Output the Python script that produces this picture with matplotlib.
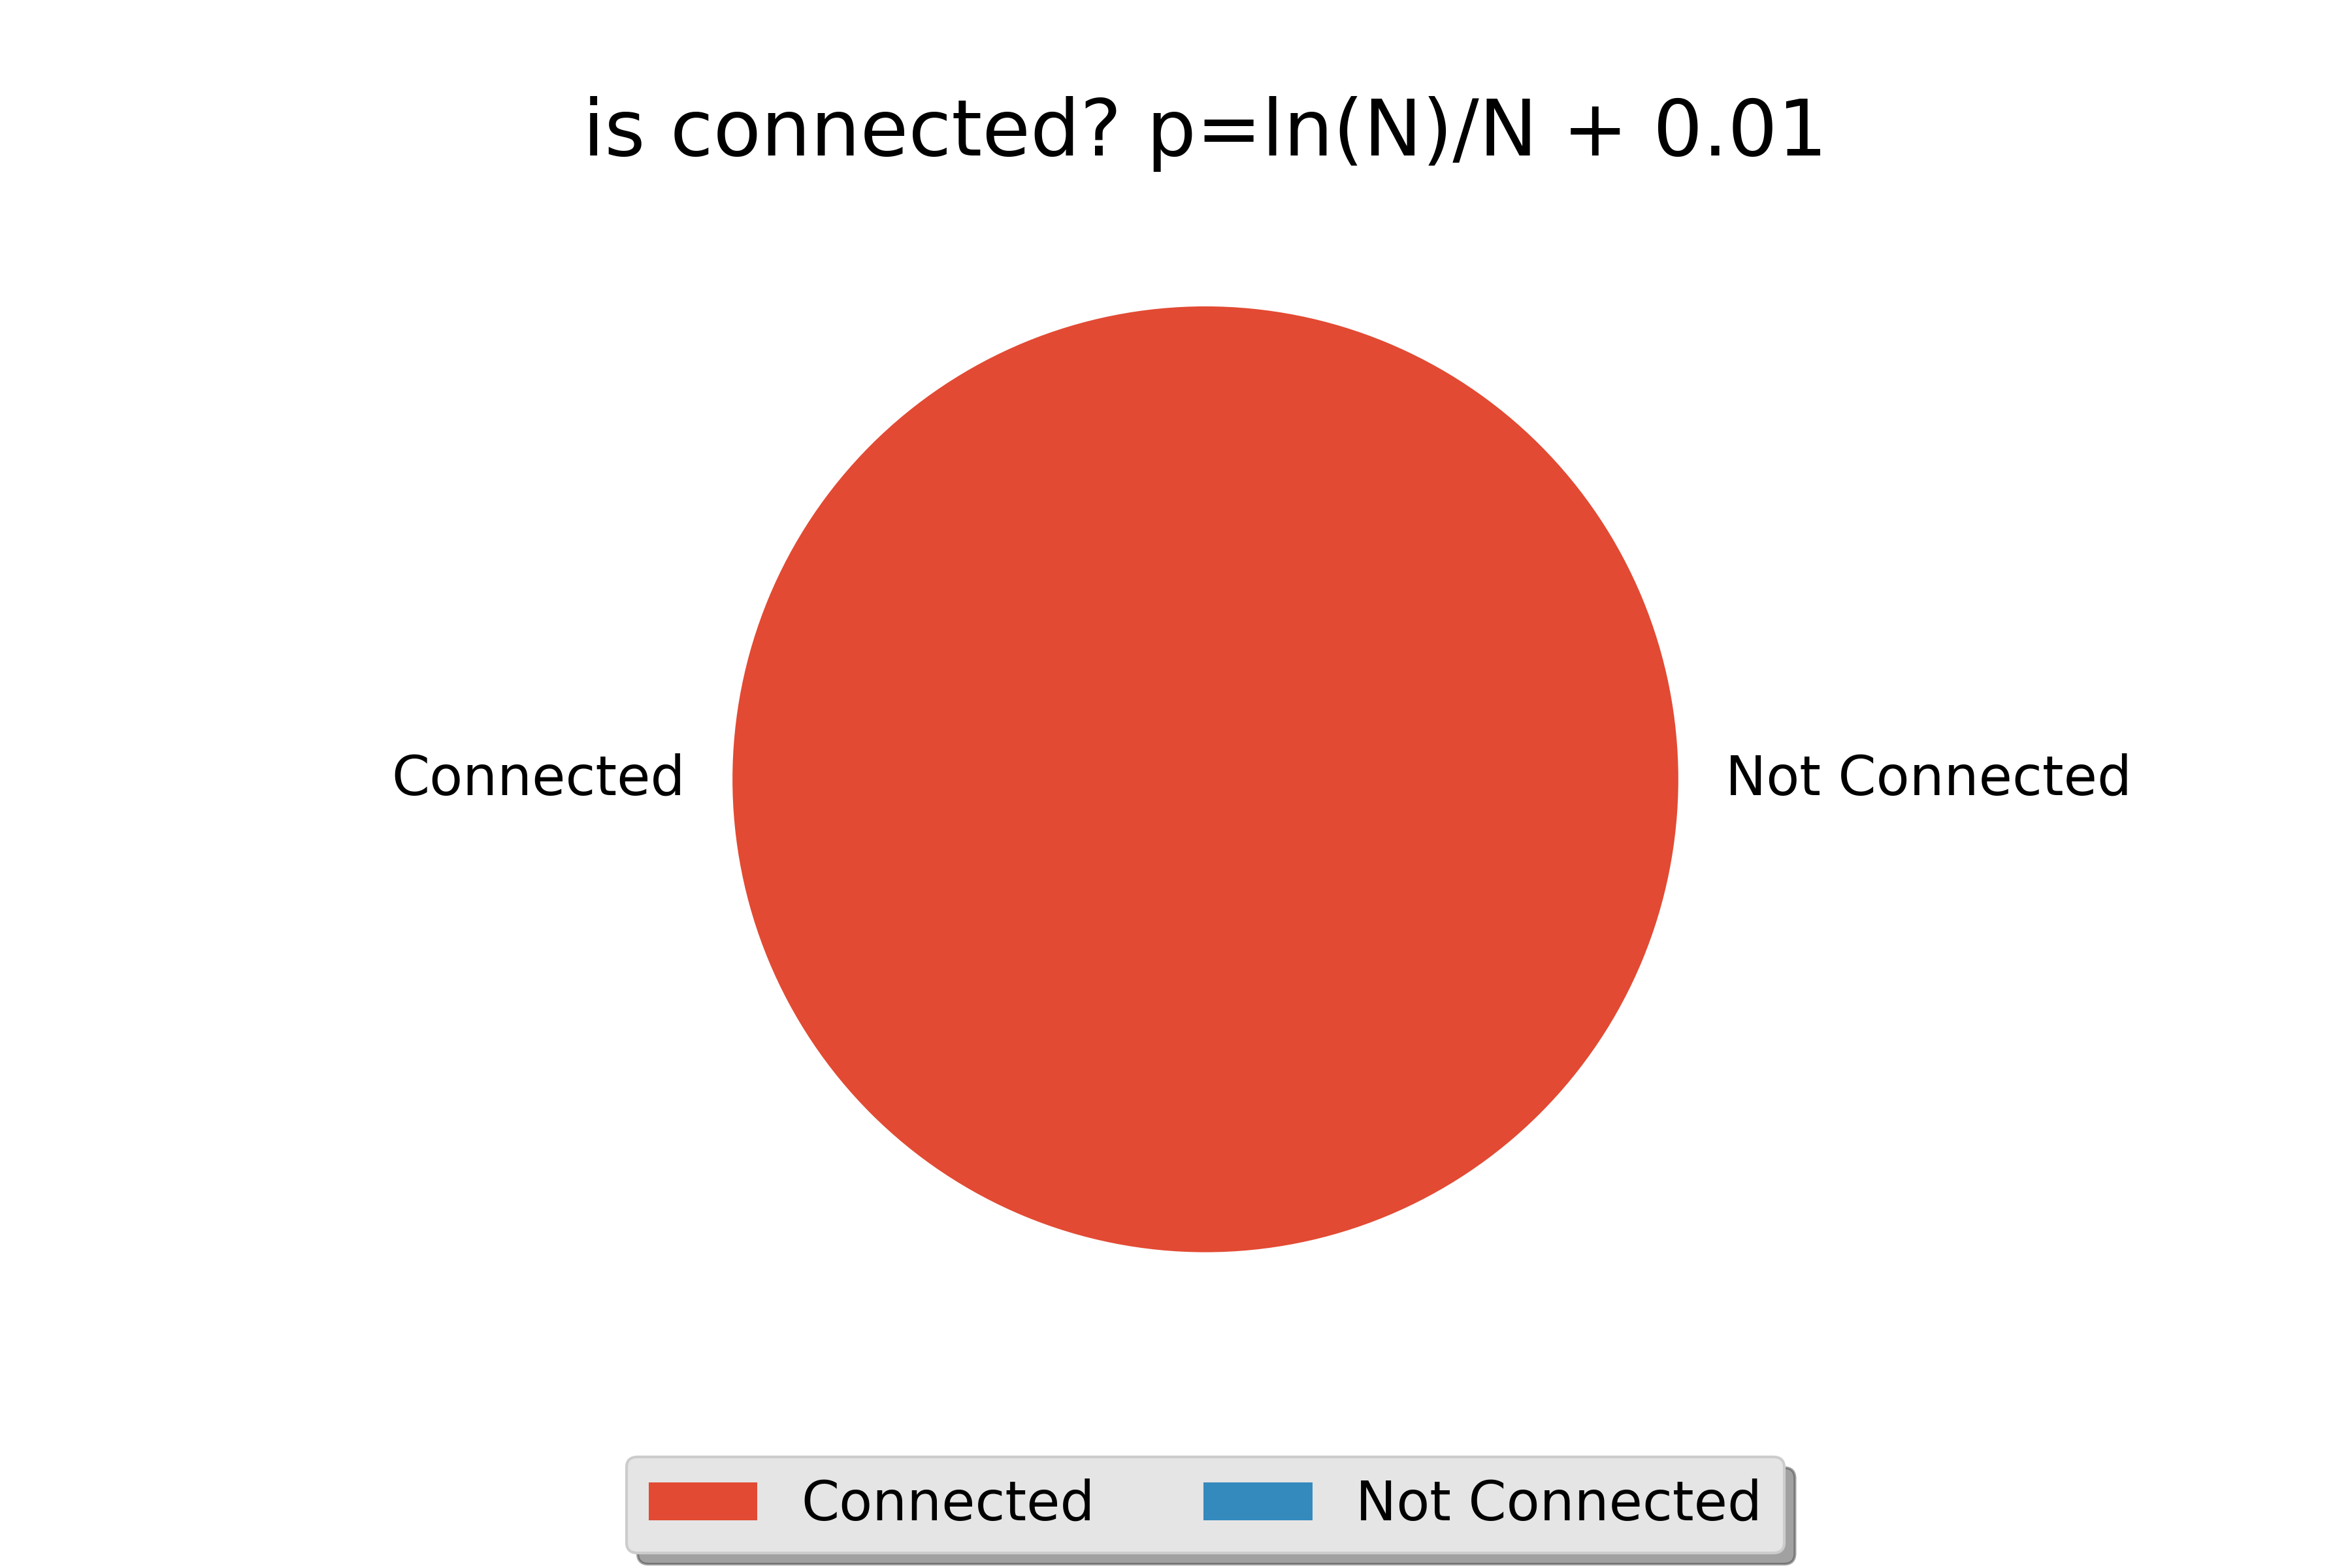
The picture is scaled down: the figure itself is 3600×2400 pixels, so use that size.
import matplotlib
matplotlib.use('Agg')
import matplotlib.pyplot as plt

plt.style.use('ggplot')

labels = ['Connected', 'Not Connected']
counts = [100, 0]

fig = plt.figure(figsize=(6, 4), dpi=600)
ax = fig.add_axes([0.125, 0.126, 0.775, 0.754])
ax.pie(counts, labels=labels)
ax.set_aspect('equal')
ax.set_title('is connected? p=ln(N)/N + 0.01')
ax.legend(loc='upper center', bbox_to_anchor=(0.5, -0.05), ncol=2,
          shadow=True, fancybox=True)
fig.savefig('out.png', dpi=600)
